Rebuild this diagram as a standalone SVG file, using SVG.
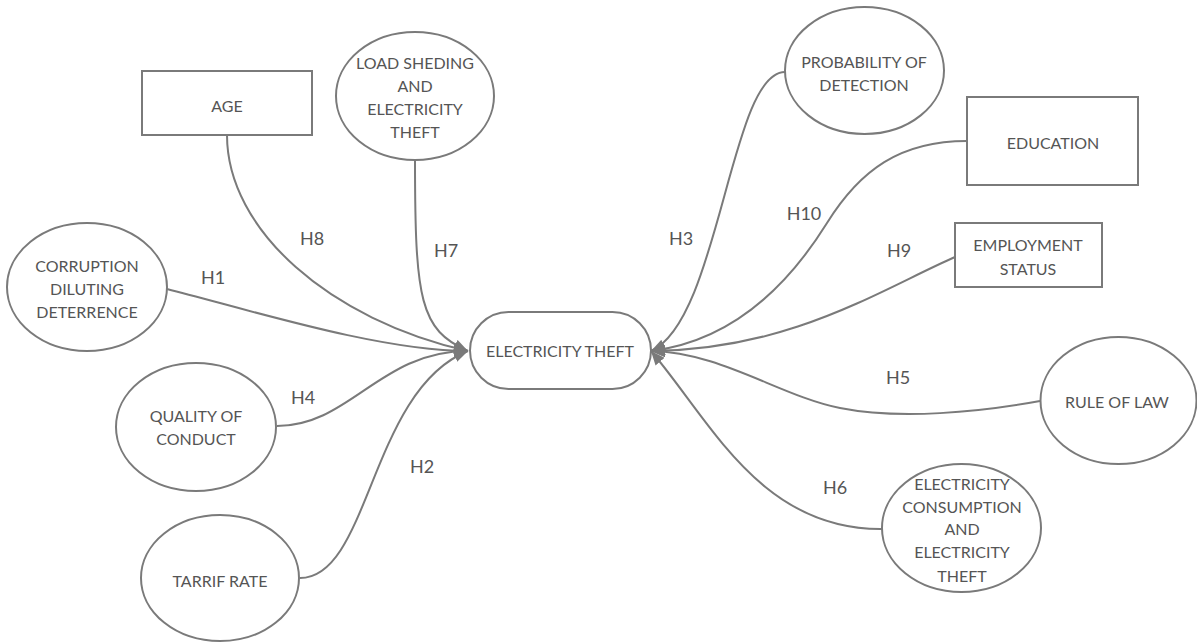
<svg xmlns="http://www.w3.org/2000/svg" width="1197" height="644" viewBox="0 0 1197 644">
<style>
.shape{fill:#ffffff;stroke:#7a7a7a;stroke-width:2}
.t{font-family:Lato,"Liberation Sans",sans-serif;font-size:16px;fill:#555555;text-anchor:middle}
.lbl{font-family:Lato,"Liberation Sans",sans-serif;font-size:18px;fill:#555555;text-anchor:middle}
.c{fill:none;stroke:#7a7a7a;stroke-width:2}
</style>
<defs>
<marker id="arr" viewBox="0 0 10 10" refX="10" refY="5" markerWidth="7" markerHeight="6" markerUnits="strokeWidth" orient="auto" preserveAspectRatio="none">
<path d="M0,0 L10,5 L0,10 z" fill="#7a7a7a"/>
</marker>
</defs>
<rect width="1197" height="644" fill="#ffffff"/>
<g id="connectors">
<path class="c" marker-end="url(#arr)" d="M227,135 C227,230 330,320 468,351"/>
<path class="c" marker-end="url(#arr)" d="M415,160 C415,300 420,330 468,351"/>
<path class="c" marker-end="url(#arr)" d="M167,289 C250,310 380,351 468,351"/>
<path class="c" marker-end="url(#arr)" d="M277,426 C350,426 380,351 468,351"/>
<path class="c" marker-end="url(#arr)" d="M300,578 C370,578 370,390 468,351"/>
<path class="c" marker-end="url(#arr)" d="M785,72 C730,72 720,320 651,351"/>
<path class="c" marker-end="url(#arr)" d="M967,141 C900,141 860,170 827,223 C794,276 740,340 651,351"/>
<path class="c" marker-end="url(#arr)" d="M955,257 C880,290 790,350 651,351"/>
<path class="c" marker-end="url(#arr)" d="M1040,401 C980,412 900,420 840,408 C780,396 720,352 651,351"/>
<path class="c" marker-end="url(#arr)" d="M882,529 C760,530 710,420 651,351"/>
<text class="lbl" x="312" y="245">H8</text>
<text class="lbl" x="446" y="257">H7</text>
<text class="lbl" x="213" y="284">H1</text>
<text class="lbl" x="303" y="404">H4</text>
<text class="lbl" x="422" y="473">H2</text>
<text class="lbl" x="681" y="245">H3</text>
<text class="lbl" x="804" y="220">H10</text>
<text class="lbl" x="899" y="257">H9</text>
<text class="lbl" x="898" y="384">H5</text>
<text class="lbl" x="835" y="494">H6</text>
</g>
<g id="electricity-theft">
<rect class="shape" x="470" y="312" width="181" height="77" rx="38.5" ry="38.5"/>
<text class="t" x="560" y="357">ELECTRICITY THEFT</text>
</g>
<g id="age">
<rect class="shape" x="142" y="71" width="170" height="64"/>
<text class="t" x="227" y="112">AGE</text>
</g>
<g id="load-shedding">
<ellipse class="shape" cx="415" cy="96" rx="79" ry="64"/>
<text class="t" x="415" y="69">LOAD SHEDING</text>
<text class="t" x="415" y="92">AND</text>
<text class="t" x="415" y="115">ELECTRICITY</text>
<text class="t" x="415" y="138">THEFT</text>
</g>
<g id="corruption">
<ellipse class="shape" cx="87" cy="287" rx="80" ry="64"/>
<text class="t" x="87" y="272">CORRUPTION</text>
<text class="t" x="87" y="295">DILUTING</text>
<text class="t" x="87" y="318">DETERRENCE</text>
</g>
<g id="quality-of-conduct">
<ellipse class="shape" cx="196" cy="427" rx="80" ry="64"/>
<text class="t" x="196" y="422">QUALITY OF</text>
<text class="t" x="196" y="445">CONDUCT</text>
</g>
<g id="tarrif-rate">
<ellipse class="shape" cx="220" cy="578" rx="79" ry="63"/>
<text class="t" x="220" y="587">TARRIF RATE</text>
</g>
<g id="probability-of-detection">
<ellipse class="shape" cx="864.5" cy="70.5" rx="79.5" ry="63.5"/>
<text class="t" x="864" y="68">PROBABILITY OF</text>
<text class="t" x="864" y="91">DETECTION</text>
</g>
<g id="education">
<rect class="shape" x="967" y="97" width="171" height="88"/>
<text class="t" x="1053" y="149">EDUCATION</text>
</g>
<g id="employment-status">
<rect class="shape" x="955" y="223" width="147" height="64"/>
<text class="t" x="1028" y="251">EMPLOYMENT</text>
<text class="t" x="1028" y="275">STATUS</text>
</g>
<g id="rule-of-law">
<ellipse class="shape" cx="1118.5" cy="400.5" rx="78" ry="63.5"/>
<text class="t" x="1117" y="408">RULE OF LAW</text>
</g>
<g id="consumption">
<ellipse class="shape" cx="961.5" cy="528" rx="79.5" ry="64"/>
<text class="t" x="962" y="490">ELECTRICITY</text>
<text class="t" x="962" y="513">CONSUMPTION</text>
<text class="t" x="962" y="535">AND</text>
<text class="t" x="962" y="558">ELECTRICITY</text>
<text class="t" x="962" y="582">THEFT</text>
</g>
</svg>
